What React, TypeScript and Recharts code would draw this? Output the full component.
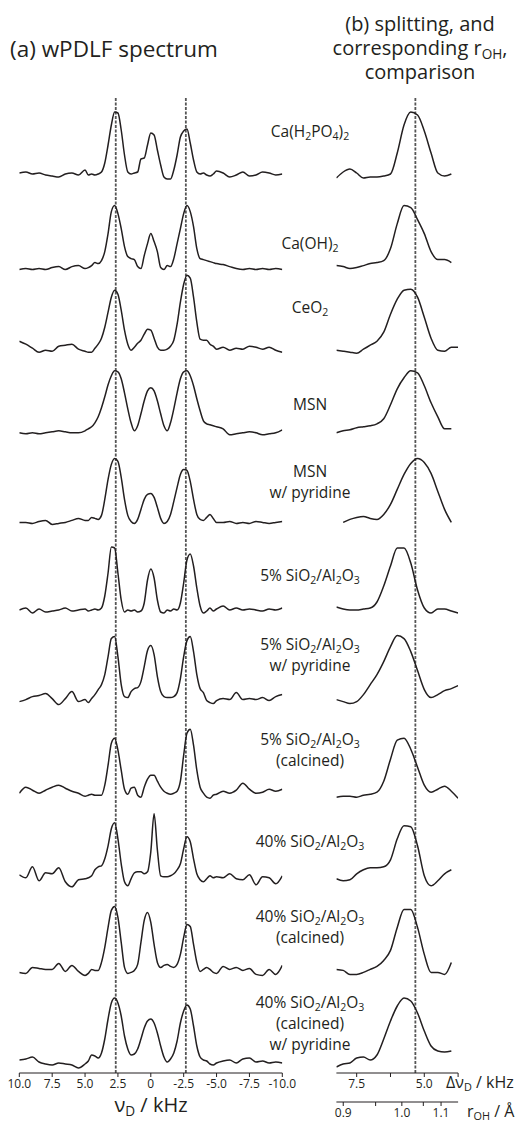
import React from "react";
import { Line, LineChart, ReferenceLine, XAxis, YAxis } from "recharts";

// ν_D grid (kHz) shared by every wPDLF spectrum, left to right
const nuGrid = [
  10, 9.5, 9, 8.5, 8, 7.5, 7, 6.5, 6, 5.5, 5,
  4.75, 4.5, 4.25, 4, 3.75, 3.5, 3.25, 3, 2.75, 2.5, 2.25, 2, 1.75, 1.5, 1.25, 1, 0.75, 0.5, 0.25,
  0, -0.25, -0.5, -0.75, -1, -1.25, -1.5, -1.75, -2, -2.25, -2.5, -2.75, -3, -3.25, -3.5, -3.75,
  -4, -4.25, -4.5, -4.75,
  -5, -5.5, -6, -6.5, -7, -7.5, -8, -8.5, -9, -9.5, -10,
];
const nuTicks = [10, 7.5, 5, 2.5, 0, -2.5, -5, -7.5, -10];

// wPDLF intensities (arb. units), one array per sample
const specCaH2PO4 = [
  2, 3, 1, 2, 0, -1, -2, 1, 2, 0, 5,
  0, 1, 0, 1, 3, 12, 30, 50, 63, 62, 45, 20, 3, 1, 2, 3, 16, 17, 30, 42, 40, 25, 10, -2, -4, -4, 5, 20, 38, 44, 46, 32, 15, 3, 1, 2, 0, -1, 1,
  4, 2, -2, 0, 3, -1, 0, 3, 2, 0, 1,
];
const specCaOH2 = [
  -6, -5, -6, -5, -6, -4, -3, -6, -3, -2, -5,
  -4, -2, 1, 0, 3, 12, 30, 52, 58, 50, 35, 17, 7, 5, 4, -3, -5, 8, 20, 30, 22, 12, -4, -6, -2, -3, 5, 20, 35, 50, 58, 52, 37, 15, 5, 4, 3, 2, 1,
  0, -1, -3, -5, -6, -5, -6, -5, -6, -5, -6,
];
const specCeO2 = [
  11, 8, 4, 0, 2, 1, 6, 7, 8, 3, 1,
  0, 0, 4, 8, 14, 25, 40, 55, 62, 58, 42, 22, 8, 2, 5, 9, 12, 18, 23, 22, 14, 5, 2, 2, 3, 6, 12, 28, 50, 68, 77, 74, 55, 30, 13, 12, 12, 8, 6,
  3, 5, 2, 4, 3, 6, 5, 3, 5, 2, 0,
];
const specMSN = [
  8, 7, 8, 7, 8, 9, 10, 9, 8, 8, 10,
  12, 14, 18, 24, 33, 44, 56, 65, 70, 69, 62, 48, 32, 18, 10, 15, 27, 40, 50, 53, 50, 40, 27, 15, 10, 18, 32, 48, 62, 69, 70, 65, 55, 42, 30, 20, 17, 16, 15,
  14, 12, 6, 7, 8, 9, 8, 6, 7, 8, 11,
];
const specMSNPyr = [
  7, 7, 6, 8, 9, 5, 6, 7, 9, 11, 9,
  9, 12, 11, 10, 14, 30, 50, 65, 71, 68, 52, 30, 14, 8, 6, 10, 20, 30, 35, 36, 32, 22, 11, 6, 8, 15, 28, 42, 55, 60, 59, 48, 30, 15, 10, 9, 12, 15, 11,
  7, 7, 8, 6, 7, 6, 8, 7, 6, 7, 8,
];
const spec5Si = [
  8, 10, 5, 9, 6, 7, 8, 10, 7, 8, 9,
  7, 8, 9, 8, 10, 22, 45, 71, 70, 45, 18, 6, 8, 7, 8, 6, 7, 15, 38, 49, 40, 18, 6, 5, 8, 7, 9, 8, 15, 35, 58, 64, 52, 30, 12, 5, 7, 10, 7,
  9, 12, 8, 10, 8, 9, 8, 7, 9, 8, 10,
];
const spec5SiPyr = [
  5, 7, 10, 11, 13, 8, 2, 8, 15, 5, 7,
  4, 8, 12, 17, 22, 32, 50, 68, 70, 50, 22, 10, 9, 15, 18, 19, 25, 40, 56, 61, 52, 30, 15, 10, 9, 9, 10, 14, 28, 50, 66, 70, 55, 32, 18, 14, 6, 4, 3,
  6, 8, 7, 14, 7, 8, 7, 9, 6, 10, 12,
];
const spec5SiCalc = [
  2, 8, 5, 2, 5, 8, 10, 7, 4, 2, -1,
  0, 1, 0, 0, 0, 10, 30, 52, 57, 45, 25, 6, 1, 7, 8, 0, -2, 8, 16, 20, 20, 14, 8, 4, 2, 1, 2, 4, 14, 40, 62, 66, 50, 25, 8, 2, -2, -3, 0,
  1, 4, 2, 5, 12, 6, 2, 3, 6, 4, 6,
];
const spec40Si = [
  9, 6, 17, 3, 11, 10, 16, 2, -3, 4, 5,
  6, 8, 14, 17, 18, 25, 38, 55, 61, 45, 20, 2, -2, 5, 11, 12, 12, 10, 12, 32, 70, 34, 8, 7, 7, 8, 10, 14, 20, 35, 47, 42, 25, 10, 4, 2, 5, 8, 6,
  7, 6, 10, 5, 4, 9, -1, 7, 6, 0, 8,
];
const spec40SiCalc = [
  0, -1, 5, 4, 3, 3, 9, 1, 7, 1, -3,
  -1, 3, 2, 2, 10, 25, 45, 62, 66, 55, 30, 5, -1, 0, 2, 8, 30, 52, 60, 50, 28, 10, 5, 7, 8, 6, 5, 8, 18, 35, 48, 46, 28, 10, 1, 3, 5, 3, 0,
  -1, 6, 3, 5, 2, 4, -2, -3, 3, -2, 7,
];
const spec40SiCalcPyr = [
  1, 2, 4, -1, -3, -4, -2, -3, -4, -7, -3,
  0, 6, 5, 3, 8, 22, 42, 58, 63, 58, 45, 25, 12, 6, 7, 12, 22, 33, 40, 42, 38, 28, 15, 4, -1, 2, 8, 20, 38, 50, 56, 52, 35, 15, 4, 1, 0, -3, -4,
  -2, 0, 1, -2, 2, 3, -1, 0, -2, -1, -2,
];

// splitting Δν_D grid (kHz) for panel (b)
const dnuGrid = [8.25, 8, 7.75, 7.5, 7.25, 7, 6.75, 6.5, 6.25, 6, 5.75, 5.5, 5.25, 5, 4.75, 4.5, 4.25, 4, 3.75];
const dnuTicks = [7.5, 6.25, 5, 3.75];
const dnuLabelled = [7.5, 5];

const splitCaH2PO4 = [-3, 3, 6, 2, -3, -2, -2, -1, 1, 22, 50, 63, 60, 44, 22, 2, -1, 1, null];
const splitCaOH2 = [-2, -3, -5, -4, -2, 0, 1, 3, 15, 40, 58, 56, 44, 30, 12, 4, 4, 1, null];
const splitCeO2 = [2, 1, 0, -1, 3, 7, 11, 20, 38, 53, 62, 63, 55, 35, 14, 2, 1, 5, 5];
const splitMSN = [8, 10, 11, 13, 14, 15, 17, 22, 36, 52, 63, 70, 68, 55, 38, 24, 12, 12, null];
const splitMSNPyr = [null, 7, 10, 12, 13, 11, 10, 15, 25, 40, 55, 66, 71, 67, 56, 38, 20, 7, null];
const split5Si = [11, 9, 8, 8, 9, 10, 16, 32, 52, 70, 70, 55, 28, 10, 5, 9, 9, 7, 5];
const split5SiPyr = [7, 5, 3, 5, 12, 22, 32, 45, 60, 71, 68, 55, 36, 17, 9, 12, 16, 18, 21];
const split5SiCalc = [-2, -1, -1, -2, 0, 1, 3, 14, 36, 55, 57, 46, 28, 10, 3, 6, 9, 4, -3];
const split40Si = [5, 3, 4, 10, 14, 16, 16, 17, 24, 45, 58, 57, 38, 8, -2, 3, 10, 14, null];
const split40SiCalc = [3, 2, -2, -2, 0, 3, 6, 12, 22, 45, 63, 63, 45, 18, 0, 0, -2, 10, null];
const split40SiCalcPyr = [-6, -3, -2, 3, 4, 1, 6, 22, 40, 55, 63, 60, 48, 30, 15, 10, 9, 10, null];

// r_OH ticks (Å), converted to splitting with Δν = C / r³
const rTicks = [0.9, 0.95, 1.0, 1.05, 1.1];
const rLabelled = [0.9, 1.0, 1.1];
const DIPOLAR_C = 5.83;

const SPLITTING = 5.33; // kHz, dashed reference

const sampleNames = [
  "Ca(H_2PO_4)_2",
  "Ca(OH)_2",
  "CeO_2",
  "MSN",
  "MSN\nw/ pyridine",
  "5% SiO_2/Al_2O_3",
  "5% SiO_2/Al_2O_3\nw/ pyridine",
  "5% SiO_2/Al_2O_3\n(calcined)",
  "40% SiO_2/Al_2O_3",
  "40% SiO_2/Al_2O_3\n(calcined)",
  "40% SiO_2/Al_2O_3\n(calcined)\nw/ pyridine",
];

const spectra = [
  specCaH2PO4, specCaOH2, specCeO2, specMSN, specMSNPyr, spec5Si,
  spec5SiPyr, spec5SiCalc, spec40Si, spec40SiCalc, spec40SiCalcPyr,
];
const splittings = [
  splitCaH2PO4, splitCaOH2, splitCeO2, splitMSN, splitMSNPyr, split5Si,
  split5SiPyr, split5SiCalc, split40Si, split40SiCalc, split40SiCalcPyr,
];

// layout
const W = 519;
const H = 1122;
const PLOT_TOP = 97;
const PLOT_BOTTOM = 1073;
const SPAN = PLOT_BOTTOM - PLOT_TOP;
const FIRST_BASE = 175;
const STEP = 88.6;
const INK = "#231f20";
const DASH = "#555";
const FONT = "'Open Sans', 'DejaVu Sans', sans-serif";
const labelCenterY = [131, 243, 307, 404, 482, 575, 655, 750, 841, 927, 1023];
const SUB = { fontSize: "0.68em", verticalAlign: "-0.28em", lineHeight: 0 };

const offset = (i: number) => PLOT_BOTTOM - (FIRST_BASE + STEP * i);

const leftRows = nuGrid.map((nu, j) => {
  const row: Record<string, number> = { nu };
  spectra.forEach((s, i) => {
    row[`s${i}`] = s[j] + offset(i);
  });
  return row;
});

const rightRows = dnuGrid.map((dnu, j) => {
  const row: Record<string, number | null> = { dnu };
  splittings.forEach((s, i) => {
    const v = s[j];
    row[`r${i}`] = v == null ? null : v + offset(i);
  });
  return row;
});

function rich(text: string) {
  return text.split(/(_\d)/).map((p, k) =>
    p.startsWith("_") ? (
      <sub key={k} style={SUB}>
        {p.slice(1)}
      </sub>
    ) : (
      <React.Fragment key={k}>{p}</React.Fragment>
    )
  );
}

const fmtNu = (v: number) => (v === 0 ? "0" : v.toFixed(1));
const fmtDnu = (v: number) => (dnuLabelled.some((t) => Math.abs(t - v) < 1e-6) ? v.toFixed(1) : "");
const fmtR = (v: number) => {
  const r = Math.cbrt(DIPOLAR_C / v);
  const hit = rLabelled.find((t) => Math.abs(t - r) < 1e-3);
  return hit == null ? "" : hit.toFixed(1);
};

export default function App() {
  return (
    <div
      style={{
        position: "relative",
        width: W,
        height: H,
        background: "#fff",
        fontFamily: FONT,
        color: INK,
        overflow: "hidden",
      }}
    >
      <style>{`body{margin:0}`}</style>

      <div style={{ position: "absolute", left: 0, top: 0 }}>
        <LineChart
          width={300}
          height={H}
          data={leftRows}
          margin={{ top: PLOT_TOP, right: 17.7, bottom: 0, left: 19.3 }}
        >
          <XAxis
            dataKey="nu"
            type="number"
            domain={[-10, 10]}
            reversed
            allowDataOverflow
            ticks={nuTicks}
            interval={0}
            tickFormatter={fmtNu}
            height={49}
            tickSize={4}
            stroke={INK}
            tick={{ fill: INK, fontSize: 12 }}
          />
          <YAxis hide type="number" domain={[0, SPAN]} allowDataOverflow />
          <ReferenceLine x={SPLITTING / 2} stroke={DASH} strokeWidth={1.8} strokeDasharray="3 1.5" />
          <ReferenceLine x={-SPLITTING / 2} stroke={DASH} strokeWidth={1.8} strokeDasharray="3 1.5" />
          {spectra.map((_, i) => (
            <Line
              key={i}
              dataKey={`s${i}`}
              type="monotone"
              stroke={INK}
              strokeWidth={1.5}
              dot={false}
              isAnimationActive={false}
            />
          ))}
        </LineChart>
      </div>

      <div style={{ position: "absolute", left: 300, top: 0 }}>
        <LineChart
          width={219}
          height={H}
          data={rightRows}
          margin={{ top: PLOT_TOP, right: 60.9, bottom: 0, left: 36.4 }}
        >
          <XAxis
            dataKey="dnu"
            type="number"
            domain={[3.75, 8.25]}
            reversed
            allowDataOverflow
            ticks={dnuTicks}
            interval={0}
            tickFormatter={fmtDnu}
            height={29}
            tickSize={4}
            stroke={INK}
            tick={{ fill: INK, fontSize: 12 }}
          />
          <XAxis
            xAxisId="r"
            dataKey="dnu"
            type="number"
            domain={[3.75, 8.25]}
            reversed
            allowDataOverflow
            ticks={rTicks.map((r) => DIPOLAR_C / r ** 3)}
            interval={0}
            tickFormatter={fmtR}
            height={20}
            tickSize={4}
            stroke={INK}
            tick={{ fill: INK, fontSize: 12 }}
          />
          <YAxis hide type="number" domain={[0, SPAN]} allowDataOverflow />
          <ReferenceLine x={SPLITTING} stroke={DASH} strokeWidth={1.8} strokeDasharray="3 1.5" />
          {splittings.map((_, i) => (
            <Line
              key={i}
              dataKey={`r${i}`}
              type="monotone"
              stroke={INK}
              strokeWidth={1.5}
              dot={false}
              isAnimationActive={false}
            />
          ))}
        </LineChart>
      </div>

      {/* titles */}
      <div style={{ position: "absolute", left: 0, width: 228, top: 35, textAlign: "center", fontSize: 22.5, lineHeight: "28px" }}>
        (a) wPDLF spectrum
      </div>
      <div style={{ position: "absolute", left: 320, width: 200, top: 12, textAlign: "center", fontSize: 20, lineHeight: "24px" }}>
        (b) splitting, and
        <br />
        corresponding r<sub style={SUB}>OH</sub>,
        <br />
        comparison
      </div>

      {/* sample names */}
      {sampleNames.map((name, i) => {
        const lines = name.split("\n");
        const lh = 21;
        return (
          <div
            key={i}
            style={{
              position: "absolute",
              left: 230,
              width: 160,
              top: labelCenterY[i] - (lines.length * lh) / 2,
              textAlign: "center",
              fontSize: 15.5,
              lineHeight: `${lh}px`,
            }}
          >
            {lines.map((ln, k) => (
              <div key={k}>{rich(ln)}</div>
            ))}
          </div>
        );
      })}

      {/* axis titles */}
      <div
        style={{
          position: "absolute",
          left: 151,
          top: 1095,
          transform: "translateX(-50%)",
          fontSize: 20,
          lineHeight: "20px",
          whiteSpace: "nowrap",
        }}
      >
        ν<sub style={SUB}>D</sub> / kHz
      </div>
      <div style={{ position: "absolute", left: 446, top: 1073, fontSize: 16, lineHeight: "18px", whiteSpace: "nowrap" }}>
        Δν<sub style={SUB}>D</sub> / kHz
      </div>
      <div style={{ position: "absolute", left: 467, top: 1102, fontSize: 16, lineHeight: "18px", whiteSpace: "nowrap" }}>
        r<sub style={SUB}>OH</sub> / Å
      </div>
    </div>
  );
}
